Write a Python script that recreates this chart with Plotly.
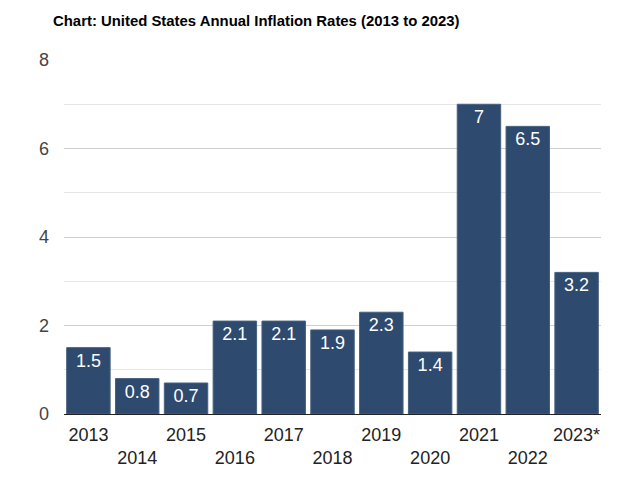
import plotly.graph_objects as go

years = ["2013", "2014", "2015", "2016", "2017", "2018", "2019", "2020", "2021", "2022", "2023*"]
rates = [1.5, 0.8, 0.7, 2.1, 2.1, 1.9, 2.3, 1.4, 7, 6.5, 3.2]
tick_text = [y if i % 2 == 0 else "<br>" + y for i, y in enumerate(years)]

fig = go.Figure(go.Bar(
    x=years, y=rates,
    marker=dict(color="#2e4a6e", line=dict(color="#46607f", width=1)),
    text=[str(v) for v in rates],
    textposition="inside", insidetextanchor="end",
    textfont=dict(color="white", size=18, family="Liberation Sans, Arial"),
    textangle=0,
))

fig.update_layout(
    width=640, height=489,
    margin=dict(l=64, r=39, t=60, b=75),
    paper_bgcolor="white", plot_bgcolor="white",
    bargap=0.11,
    showlegend=False,
    font=dict(family="Liberation Sans, Arial", size=18, color="#333"),
    title=dict(text="<b>Chart: United States Annual Inflation Rates (2013 to 2023)</b>",
               x=0, xref="paper", xanchor="left", y=0.958, yanchor="middle",
               font=dict(size=14.9, color="#000", family="Liberation Sans, Arial"),
               pad=dict(l=-11)),
    uniformtext=dict(minsize=18, mode="show"),
    xaxis=dict(
        tickmode="array", tickvals=years, ticktext=tick_text,
        range=[-0.5, len(years) - 0.5], autorange=False,
        showgrid=False, tickfont=dict(size=18, color="#222"),
        showline=False, ticks="", ticklabelstandoff=8,
    ),
    yaxis=dict(
        range=[0, 8], tickmode="linear", tick0=0, dtick=1,
        showgrid=True, gridcolor="#e6e6e6", gridwidth=1,
        showticklabels=False, zeroline=False,
    ),
    yaxis2=dict(
        overlaying="y", side="left", range=[0, 8],
        tickmode="linear", tick0=0, dtick=2,
        showgrid=True, gridcolor="#cfcfcf", gridwidth=1,
        zeroline=True, zerolinecolor="#222222", zerolinewidth=1,
        tickfont=dict(size=18, color="#444"),
        ticklabelstandoff=14,
    ),
)
fig.add_trace(go.Scatter(x=[years[0]], y=[0], yaxis="y2", mode="markers",
                         marker=dict(opacity=0), hoverinfo="skip", showlegend=False))

fig.write_html("out.html")
